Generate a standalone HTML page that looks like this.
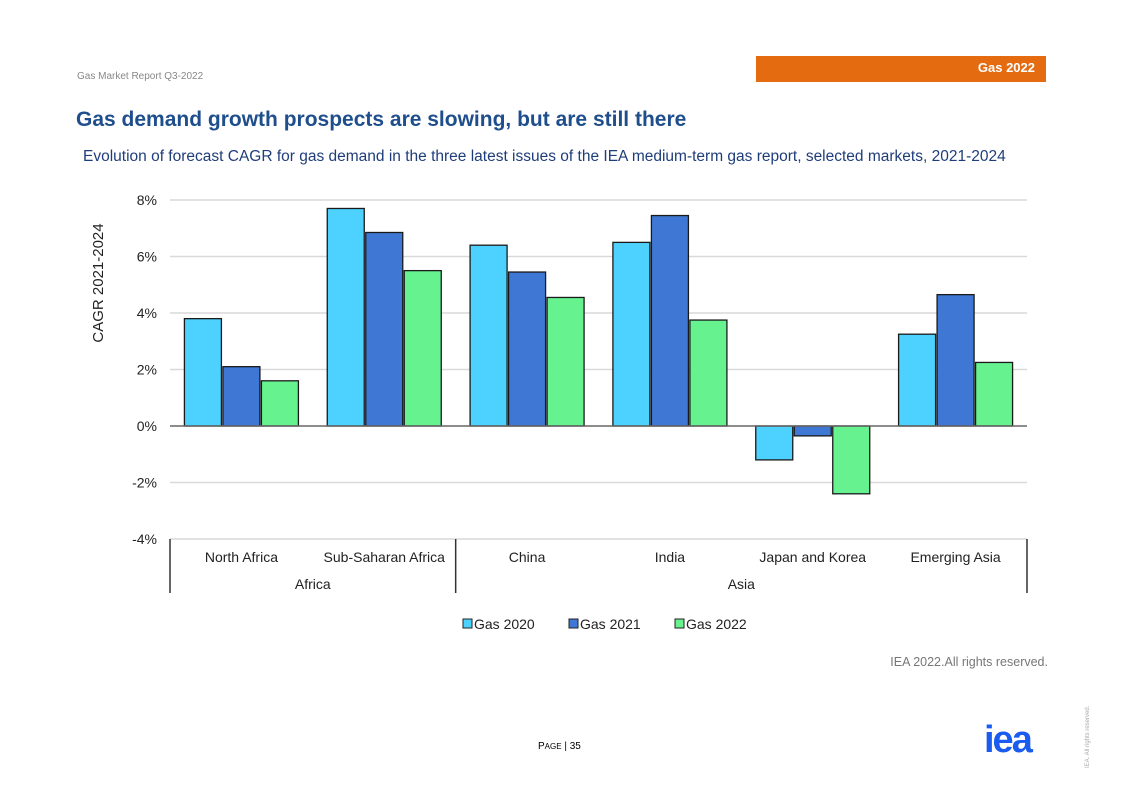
<!DOCTYPE html>
<html><head><meta charset="utf-8">
<style>
body{margin:0;background:#fff;font-family:"Liberation Sans",sans-serif;}
#wrap{position:relative;width:1122px;height:793px;overflow:hidden;background:#fff;}
.abs{position:absolute;}
</style></head>
<body><div id="wrap">
<div class="abs" style="left:77px;top:71px;font-size:10px;color:#888;">Gas Market Report Q3-2022</div>
<div class="abs" style="left:756px;top:56px;width:290px;height:26px;background:#e56b11;color:#fff;font-size:13px;font-weight:bold;text-align:right;box-sizing:border-box;padding:4px 11px 0 0;">Gas 2022</div>
<div class="abs" style="left:76px;top:108px;font-size:21px;font-weight:bold;color:#1f4e8c;">Gas demand growth prospects are slowing, but are still there</div>
<div class="abs" style="left:83px;top:148px;font-size:15.5px;color:#1f3d7a;">Evolution of forecast CAGR for gas demand in the three latest issues of the IEA medium-term gas report, selected markets, 2021-2024</div>
<svg class="abs" style="left:0;top:0" width="1122" height="793" id="chart"></svg>
<div class="abs" style="left:860px;top:655px;font-size:12.5px;color:#777;width:188px;text-align:right;">IEA 2022.All rights reserved.</div>
<div class="abs" style="left:538px;top:741px;font-size:10px;color:#000;">P<span style="font-size:8px">AGE</span> | 35</div>
<div class="abs" style="left:984px;top:720px;font-size:38px;font-weight:bold;color:#1a5cf0;letter-spacing:-2px;line-height:40px;">iea</div>
<div class="abs" style="left:1085px;top:768px;font-size:6px;color:#aaa;transform:rotate(-90deg);transform-origin:left top;white-space:nowrap;">IEA. All rights reserved.</div>
</div>
<script>
const categories=["North Africa","Sub-Saharan Africa","China","India","Japan and Korea","Emerging Asia"];
const groups=["Africa","Asia"];
const groupSizes=[2,4];
const seriesNames=["Gas 2020","Gas 2021","Gas 2022"];
const gas2020=[3.8,7.7,6.4,6.5,-1.2,3.25];
const gas2021=[2.1,6.85,5.45,7.45,-0.35,4.65];
const gas2022=[1.6,5.5,4.55,3.75,-2.4,2.25];
const yTicks=[8,6,4,2,0,-2,-4];
const colors=["#4dd2ff","#3f78d4","#66f28f"];
const svg=document.getElementById('chart');
const NS="http://www.w3.org/2000/svg";
const X0=170,X1=1027,Y0=426,PX=56.5;
const y=v=>Y0-v/2*PX;
const cw=(X1-X0)/categories.length;
const xc=i=>X0+cw*(i+0.5);
function mk(t,a,txt){const e=document.createElementNS(NS,t);for(const k in a)e.setAttribute(k,a[k]);if(txt!==undefined)e.textContent=txt;svg.appendChild(e);return e;}
yTicks.forEach(t=>{
 if(t!==0){const g=mk('line',{x1:X0,x2:X1,y1:y(t),y2:y(t),stroke:'#d9d9d9','stroke-width':1.5});
 
 }
 const l=mk('text',{x:157,y:y(t)+5,'text-anchor':'end','font-size':14,fill:'#222'},t+'%');
 
 
});
const yt=mk('text',{x:103,y:283,'text-anchor':'middle','font-size':15,fill:'#222',transform:'rotate(-90 103 283)'},'CAGR 2021-2024');


const series=[gas2020,gas2021,gas2022];
series.forEach((s,si)=>{s.forEach((v,i)=>{
 const bx=xc(i)-57+si*38.5;
 const r=mk('rect',{x:bx,y:Math.min(y(v),Y0),width:37,height:Math.abs(y(v)-Y0),fill:colors[si],stroke:'#1a1a1a','stroke-width':1.3});
 
 
});});
const zl=mk('line',{x1:X0,x2:X1,y1:Y0,y2:Y0,stroke:'#666','stroke-width':1.5});


categories.forEach((c,i)=>{
 const t=mk('text',{x:xc(i),y:562,'text-anchor':'middle','font-size':14,fill:'#222'},c);
 
 
});
let start=0;
const sep=[X0];
groupSizes.forEach((n,gi)=>{
 const mid=X0+cw*(start+n/2);
 const t=mk('text',{x:mid,y:589,'text-anchor':'middle','font-size':14,fill:'#222'},groups[gi]);
 
 
 start+=n;sep.push(X0+cw*start);
});
sep.forEach((sx)=>{
 const l=mk('line',{x1:sx,x2:sx,y1:539,y2:593,stroke:'#333','stroke-width':1.5});
 
 
});
seriesNames.forEach((n,si)=>{
 const lx=463+si*106;
 const r=mk('rect',{x:lx,y:619,width:9,height:9,fill:colors[si],stroke:'#222','stroke-width':1});
 
 
 const t=mk('text',{x:lx+11,y:629,'font-size':14,fill:'#222'},n);
 
 
});
</script>
</body></html>
